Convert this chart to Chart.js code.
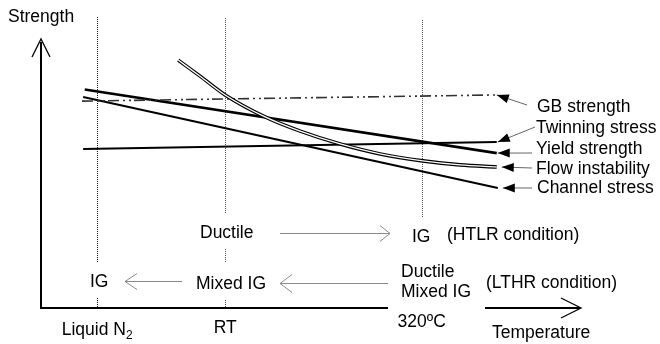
<!DOCTYPE html>
<html>
<head>
<meta charset="utf-8">
<script src="https://cdn.jsdelivr.net/npm/chart.js@4"></script>
<style>
  body { margin: 0; background: #fff; }
  canvas { display: block; }
</style>
</head>
<body>
<canvas id="strengthChart" width="660" height="344"></canvas>
<script>
// schematic chart: x = temperature (0-100 along the axis), y = strength (0-100)
const seriesNames = ["GB strength", "Twinning stress", "Yield strength", "Flow instability", "Channel stress"];

const gbStrength = [{ x: 7.6, y: 77.2 }, { x: 84.4, y: 79.5 }];
const twinningStress = [{ x: 7.8, y: 59.3 }, { x: 84.4, y: 61.9 }];
const yieldStrength = [{ x: 8.1, y: 81.5 }, { x: 84.4, y: 57.8 }];
const flowInstability = [
  { x: 25.4, y: 92.5 }, { x: 29.4, y: 86.6 }, { x: 34.1, y: 79.5 },
  { x: 41.5, y: 71.3 }, { x: 48.0, y: 66.0 }, { x: 55.4, y: 61.2 },
  { x: 62.8, y: 57.5 }, { x: 70.7, y: 54.9 }, { x: 77.6, y: 53.4 },
  { x: 84.4, y: 52.6 },
];
const channelStress = [{ x: 7.8, y: 78.7 }, { x: 84.6, y: 44.8 }];

const tickValues = [10.4, 34.1, 70.5];
const tickLabels = ["Liquid N", "RT", "320ºC"];
const tickSubscripts = ["2", "", ""];

const FONT = '17.5px "Liberation Sans", Arial, sans-serif';
const SUB_FONT = '12px "Liberation Sans", Arial, sans-serif';

function line(ctx, x1, y1, x2, y2) {
  ctx.beginPath();
  ctx.moveTo(x1, y1);
  ctx.lineTo(x2, y2);
  ctx.stroke();
}

function chevron(ctx, tx, ty, dx, len, half) {
  // open arrow head pointing along dx (+1 right, -1 left)
  ctx.beginPath();
  ctx.moveTo(tx - dx * len, ty - half);
  ctx.lineTo(tx, ty);
  ctx.lineTo(tx - dx * len, ty + half);
  ctx.stroke();
}

function solidHead(ctx, sx, sy, tx, ty) {
  const a = Math.atan2(ty - sy, tx - sx);
  const len = 12, half = 4.5;
  ctx.beginPath();
  ctx.moveTo(tx, ty);
  ctx.lineTo(tx - len * Math.cos(a) + half * Math.sin(a), ty - len * Math.sin(a) - half * Math.cos(a));
  ctx.lineTo(tx - len * Math.cos(a) - half * Math.sin(a), ty - len * Math.sin(a) + half * Math.cos(a));
  ctx.closePath();
  ctx.fill();
}

const schematic = {
  id: "schematic",
  beforeDatasetsDraw(chart) {
    const ctx = chart.ctx;
    const xs = chart.scales.x;
    const area = chart.chartArea;
    ctx.save();

    // dotted temperature markers, broken where the text sits
    const gaps = [
      [[17, 262], [298, area.bottom]],
      [[18, 213], [249, 263], [300, area.bottom]],
      [[20, 217]],
    ];
    const dotColors = ["#111", "#555", "#555"];
    ctx.lineWidth = 1;
    ctx.setLineDash([1, 1]);
    tickValues.forEach((v, i) => {
      const px = Math.round(xs.getPixelForValue(v)) + 0.5;
      ctx.strokeStyle = dotColors[i];
      gaps[i].forEach(([a, b]) => line(ctx, px, a, px, b));
    });
    ctx.setLineDash([]);

    // axes
    ctx.strokeStyle = "#000";
    ctx.lineWidth = 2;
    line(ctx, area.left, area.top + 2, area.left, area.bottom + 1);
    line(ctx, area.left - 1, area.bottom, 388, area.bottom);
    line(ctx, 485, area.bottom, area.right - 1, area.bottom);
    ctx.lineWidth = 1.3;
    ctx.beginPath();
    ctx.moveTo(area.left - 9, area.top + 17);
    ctx.lineTo(area.left, area.top - 1);
    ctx.lineTo(area.left + 9, area.top + 17);
    ctx.stroke();
    chevron(ctx, area.right, area.bottom, 1, 20, 10);

    // tick labels
    ctx.fillStyle = "#000";
    ctx.font = FONT;
    ctx.textBaseline = "alphabetic";
    const tickBase = [335, 333, 327];
    tickValues.forEach((v, i) => {
      const px = xs.getPixelForValue(v);
      ctx.font = FONT;
      const w = ctx.measureText(tickLabels[i]).width;
      ctx.font = SUB_FONT;
      const sw = tickSubscripts[i] ? ctx.measureText(tickSubscripts[i]).width : 0;
      const left = px - (w + sw) / 2;
      ctx.font = FONT;
      ctx.textAlign = "left";
      ctx.fillText(tickLabels[i], left, tickBase[i]);
      if (sw) {
        ctx.font = SUB_FONT;
        ctx.fillText(tickSubscripts[i], left + w, tickBase[i] + 4);
      }
    });
    ctx.font = FONT;
    ctx.fillText("Temperature", 492, 338);
    ctx.fillText("Strength", 8, 22);

    // fracture-mode annotations
    ctx.fillText("Ductile", 200, 238);
    ctx.fillText("IG", 412, 242);
    ctx.fillText("(HTLR condition)", 447, 240);
    ctx.fillText("IG", 90, 287);
    ctx.fillText("Mixed IG", 196, 289);
    ctx.fillText("Ductile", 401, 277);
    ctx.fillText("Mixed IG", 401, 297);
    ctx.fillText("(LTHR condition)", 486, 288);

    ctx.strokeStyle = "#8a8a8a";
    ctx.lineWidth = 1;
    line(ctx, 280, 233.5, 390, 233.5);
    chevron(ctx, 390, 233.5, 1, 10, 8);
    line(ctx, 125, 281.5, 182, 281.5);
    chevron(ctx, 125, 281.5, -1, 12, 8);
    line(ctx, 280, 283.5, 388, 283.5);
    chevron(ctx, 280, 283.5, -1, 12, 9);
    ctx.restore();
  },
  afterDatasetsDraw(chart) {
    const ctx = chart.ctx;
    const xs = chart.scales.x, ys = chart.scales.y;
    const ends = [gbStrength, twinningStress, yieldStrength, flowInstability, channelStress]
      .map(d => d[d.length - 1]);
    const spots = [
      { tx: 537, ty: 112, sx: 527, sy: 105, dx: 0 },
      { tx: 536, ty: 133, sx: 535, sy: 127, dx: 1 },
      { tx: 536, ty: 154, sx: 532, sy: 153, dx: 1 },
      { tx: 536, ty: 174, sx: 532, sy: 168, dx: 5 },
      { tx: 537, ty: 193, sx: 532, sy: 188, dx: 5 },
    ];
    ctx.save();
    ctx.font = FONT;
    ctx.textAlign = "left";
    ctx.textBaseline = "alphabetic";
    spots.forEach((s, i) => {
      const tipX = xs.getPixelForValue(ends[i].x) + s.dx;
      const tipY = ys.getPixelForValue(ends[i].y);
      ctx.strokeStyle = "#666";
      ctx.lineWidth = 1;
      line(ctx, s.sx, s.sy, tipX, tipY);
      ctx.fillStyle = "#000";
      solidHead(ctx, s.sx, s.sy, tipX, tipY);
      ctx.fillText(seriesNames[i], s.tx, s.ty);
    });
    ctx.restore();
  },
};

const ctx = document.getElementById("strengthChart").getContext("2d");

new Chart(ctx, {
  type: "line",
  data: {
    datasets: [
      {
        label: seriesNames[0],
        data: gbStrength,
        borderColor: "#333",
        borderWidth: 1.6,
        borderDash: [11, 4, 2, 4, 2, 3],
        order: 2,
      },
      {
        label: seriesNames[1],
        data: twinningStress,
        borderColor: "#000",
        borderWidth: 2,
        order: 2,
      },
      {
        label: seriesNames[2],
        data: yieldStrength,
        borderColor: "#000",
        borderWidth: 2.6,
        order: 2,
      },
      {
        label: seriesNames[3] + " (inner)",
        data: flowInstability,
        borderColor: "#fff",
        borderWidth: 1.3,
        cubicInterpolationMode: "monotone",
        order: 0,
      },
      {
        label: seriesNames[3],
        data: flowInstability,
        borderColor: "#000",
        borderWidth: 3.6,
        cubicInterpolationMode: "monotone",
        order: 1,
      },
      {
        label: seriesNames[4],
        data: channelStress,
        borderColor: "#000",
        borderWidth: 2,
        order: 2,
      },
    ],
  },
  options: {
    responsive: false,
    animation: false,
    devicePixelRatio: 1,
    layout: { padding: { left: 41, top: 40, right: 79, bottom: 36 } },
    elements: { point: { radius: 0 } },
    scales: {
      x: { type: "linear", min: 0, max: 100, display: false },
      y: { type: "linear", min: 0, max: 100, display: false },
    },
    plugins: {
      legend: { display: false },
      tooltip: { enabled: false },
    },
  },
  plugins: [schematic],
});
</script>
</body>
</html>
